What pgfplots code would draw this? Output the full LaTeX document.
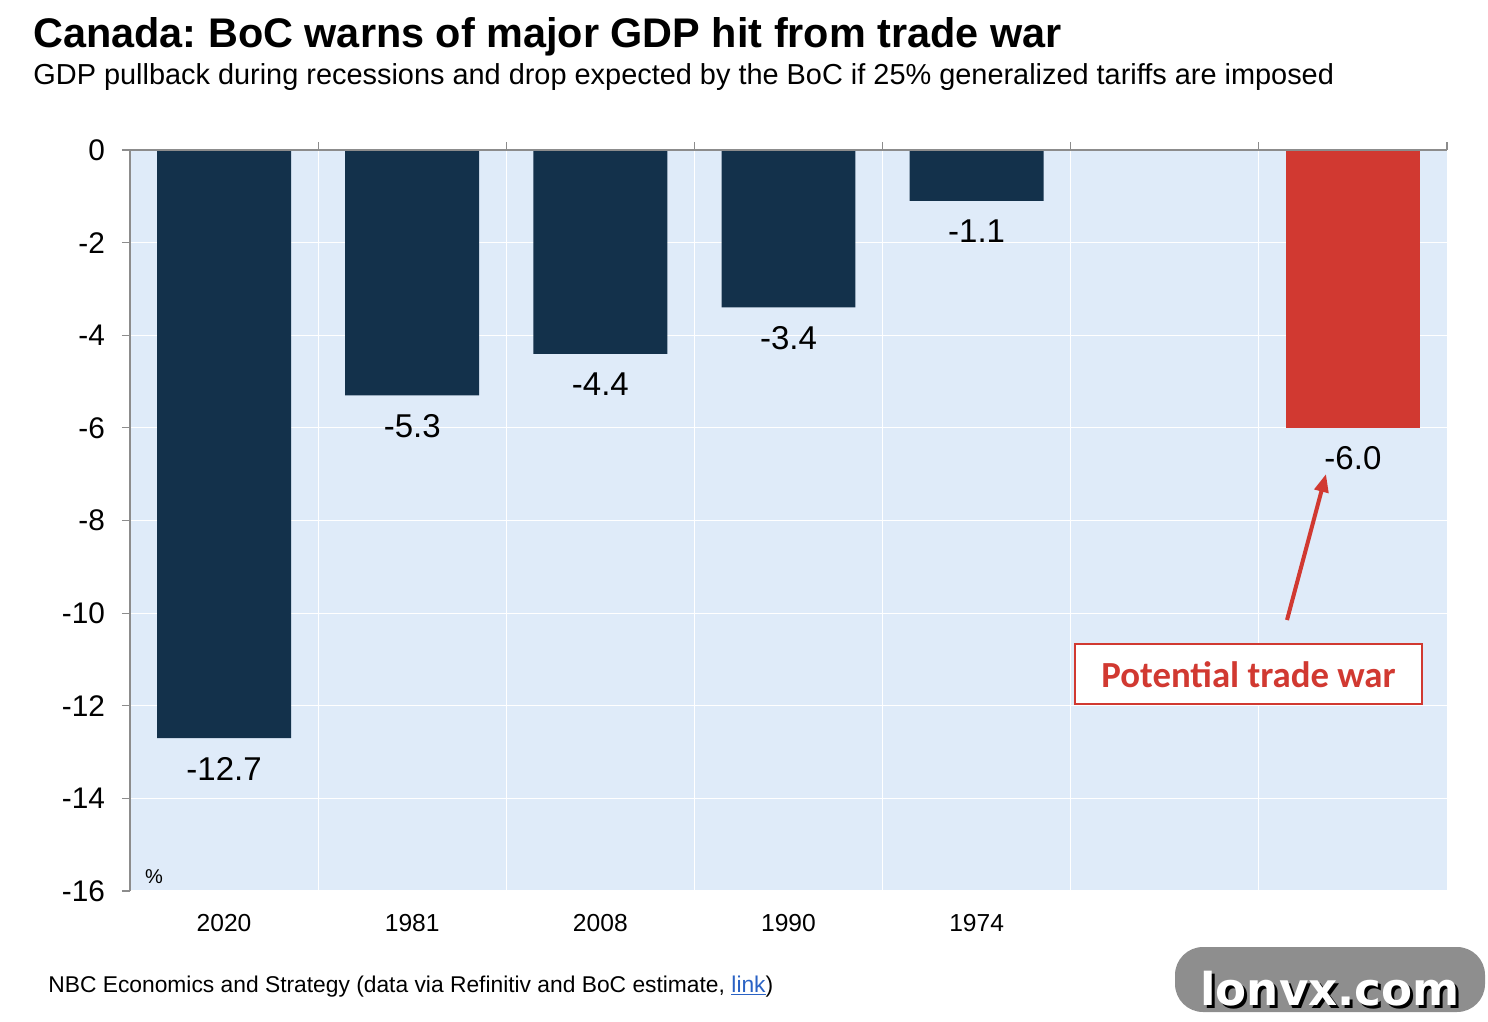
\documentclass[border=0pt]{standalone}
\usepackage{pgfplots}
\pgfplotsset{compat=1.18}
\usepackage{fontspec}
\setmainfont{Liberation Sans}
\newfontfamily\carlito{Carlito}
\newfontfamily\dejavu{DejaVu Sans}
\usetikzlibrary{arrows.meta}
\frenchspacing

\definecolor{navy}{HTML}{13314B}
\definecolor{warred}{HTML}{D13931}
\definecolor{bgblue}{HTML}{DFEBF9}
\definecolor{axgray}{HTML}{8C8C8C}
\definecolor{linkblue}{HTML}{2A62C4}
\definecolor{wmgray}{HTML}{8E8E8E}

\begin{document}
\begin{tikzpicture}
\path[use as bounding box] (0,0) rectangle (744pt,-511pt);
% titles, in pixel units (y pointing down)
\begin{scope}[x=0.5pt,y=-0.5pt]
  \node[anchor=base west,inner sep=0pt,font=\fontsize{20.7}{24}\selectfont\bfseries] at (33,48)
    {Canada: BoC warns of major GDP hit from trade war};
  \node[anchor=base west,inner sep=0pt,font=\fontsize{14.45}{17}\selectfont] at (33,85)
    {GDP pullback during recessions and drop expected by the BoC if 25\% generalized tariffs are imposed};
\end{scope}

\begin{axis}[
  at={(65pt,-445.5pt)}, anchor=south west,
  width=658.5pt, height=370.5pt, scale only axis,
  xmin=-0.5, xmax=6.5, ymin=-16, ymax=0,
  axis lines*=left,
  x axis line style={draw=none,-},
  y axis line style={draw=axgray,line width=0.6pt,-},
  axis background/.style={fill=bgblue},
  xtick={0,...,6},
  xticklabels={2020,1981,2008,1990,1974,{},{}},
  minor xtick={0.5,1.5,...,5.5},
  xminorgrids, ymajorgrids,
  minor grid style={white,line width=0.6pt},
  major grid style={white,line width=0.6pt},
  x tick style={draw=none},
  ytick={-16,-14,...,0},
  y tick style={draw=axgray,line width=0.6pt},
  tick align=outside,
  major tick length=4pt,
  /pgf/number format/assume math mode=true,
  yticklabel style={font=\fontsize{14.9}{17}\selectfont,xshift=-5pt},
  xticklabel style={font=\fontsize{12.3}{14}\selectfont,yshift=-4pt},
  ybar, bar width=0.712,
  nodes near coords={\pgfmathprintnumber[fixed,fixed zerofill,precision=1]{\pgfplotspointmeta}},
  every node near coord/.append style={font=\fontsize{16.5}{18}\selectfont,anchor=north,yshift=-6pt,black},
  clip=false,
]
\addplot[fill=navy,draw=none,bar shift=0pt] coordinates {(0,-12.7) (1,-5.3) (2,-4.4) (3,-3.4) (4,-1.1)};
\addplot[fill=warred,draw=none,bar shift=0pt] coordinates {(6,-6.0)};
% top axis line with category separators
\draw[axgray,line width=0.6pt] (axis cs:-0.5,0) -- (axis cs:6.5,0);
\pgfplotsinvokeforeach{0.5,1.5,2.5,3.5,4.5,5.5,6.5}{
  \draw[axgray,line width=0.6pt] (axis cs:#1,0) -- ([yshift=4pt]axis cs:#1,0);
}
\end{axis}

\begin{scope}[x=0.5pt,y=-0.5pt]
  \node[font=\fontsize{10}{12}\selectfont,inner sep=0pt] at (154,877) {\%};
  \draw[warred,line width=2pt,-{Triangle[length=9pt,width=7pt]}] (1287,620) -- (1326,474);
  \draw[warred,fill=white,line width=0.6pt] (1075,644) rectangle (1422,704);
  \node[font=\fontsize{18.4}{20}\carlito\bfseries,text=warred] at (1248.5,675) {Potential trade war};
  \node[anchor=base west,inner sep=0pt,font=\fontsize{11.4}{13}\selectfont] at (48,992)
    {NBC Economics and Strategy (data via Refinitiv and BoC estimate, \textcolor{linkblue}{\underline{link}})};
  % site badge
  \fill[wmgray,rounded corners=14pt] (1175,947) rectangle (1485,1012);
  \node[font=\fontsize{22.6}{24}\dejavu\bfseries,text=black] at (1333,992) {lonvx.com};
  \node[font=\fontsize{22.6}{24}\dejavu\bfseries,text=white] at (1330,989) {lonvx.com};
\end{scope}
\end{tikzpicture}
\end{document}
